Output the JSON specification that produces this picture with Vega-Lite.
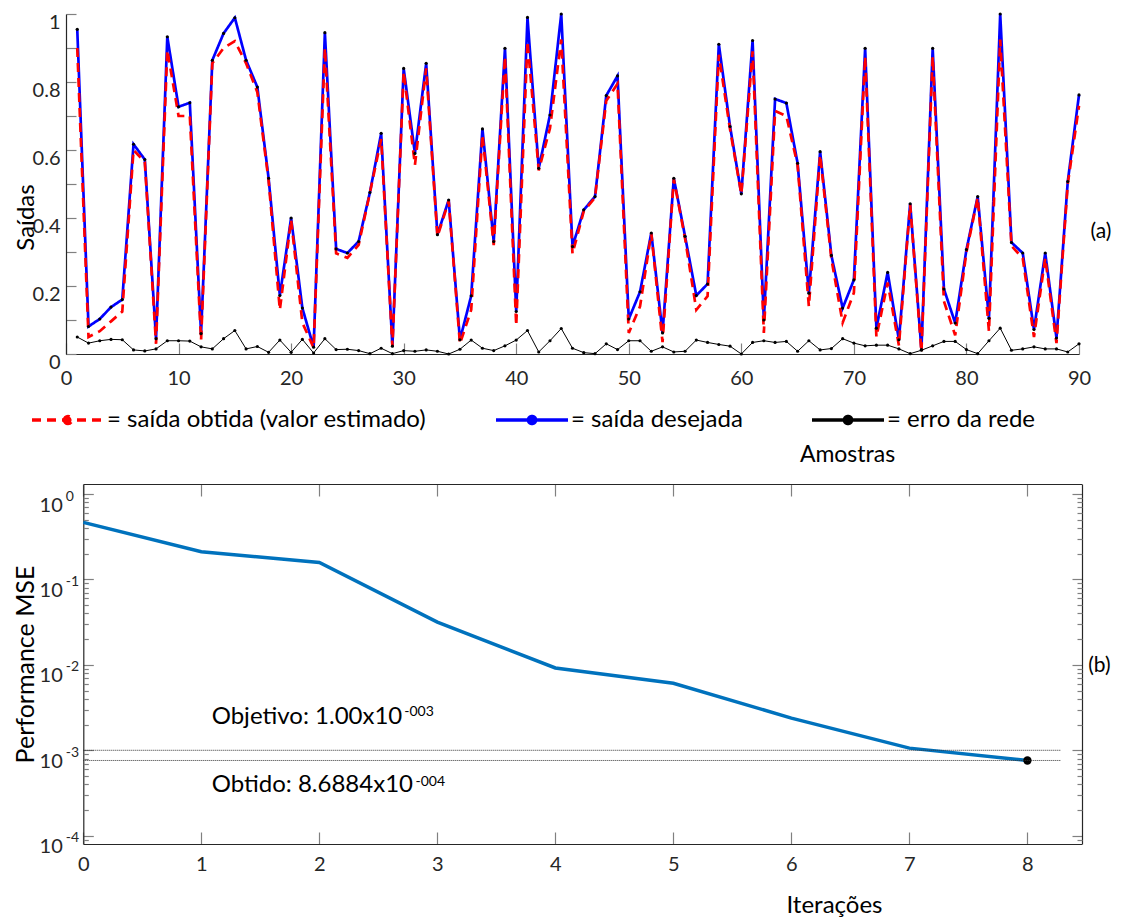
{
  "$schema": "https://vega.github.io/schema/vega-lite/v6.json",
  "padding": {"left": 13, "top": 8, "right": 5, "bottom": 0},
  "config": {
    "font": "Lato",
    "view": {"stroke": null},
    "axis": {"grid": false, "labelFont": "Lato", "titleFont": "Lato", "labelColor": "#262626", "titleColor": "#000000", "titleFontWeight": "normal", "domainColor": "#262626", "tickColor": "#808080", "domainWidth": 1.2, "tickWidth": 1.2, "labelFlush": false}
  },
  "datasets": {
    "amostras": [
      {"n":1,"desejada":0.955,"obtida":0.900,"erro":0.050},
      {"n":2,"desejada":0.081,"obtida":0.050,"erro":0.032},
      {"n":3,"desejada":0.103,"obtida":0.067,"erro":0.039},
      {"n":4,"desejada":0.138,"obtida":0.096,"erro":0.043},
      {"n":5,"desejada":0.160,"obtida":0.125,"erro":0.042},
      {"n":6,"desejada":0.617,"obtida":0.600,"erro":0.012},
      {"n":7,"desejada":0.572,"obtida":0.565,"erro":0.009},
      {"n":8,"desejada":0.045,"obtida":0.030,"erro":0.015},
      {"n":9,"desejada":0.933,"obtida":0.894,"erro":0.039},
      {"n":10,"desejada":0.727,"obtida":0.700,"erro":0.039},
      {"n":11,"desejada":0.739,"obtida":0.700,"erro":0.038},
      {"n":12,"desejada":0.060,"obtida":0.040,"erro":0.021},
      {"n":13,"desejada":0.864,"obtida":0.855,"erro":0.015},
      {"n":14,"desejada":0.943,"obtida":0.900,"erro":0.045},
      {"n":15,"desejada":0.989,"obtida":0.920,"erro":0.069},
      {"n":16,"desejada":0.864,"obtida":0.855,"erro":0.015},
      {"n":17,"desejada":0.785,"obtida":0.770,"erro":0.022},
      {"n":18,"desejada":0.517,"obtida":0.510,"erro":0.005},
      {"n":19,"desejada":0.172,"obtida":0.130,"erro":0.041},
      {"n":20,"desejada":0.400,"obtida":0.395,"erro":0.005},
      {"n":21,"desejada":0.135,"obtida":0.092,"erro":0.043},
      {"n":22,"desejada":0.020,"obtida":0.018,"erro":0.003},
      {"n":23,"desejada":0.945,"obtida":0.900,"erro":0.045},
      {"n":24,"desejada":0.309,"obtida":0.296,"erro":0.013},
      {"n":25,"desejada":0.297,"obtida":0.283,"erro":0.014},
      {"n":26,"desejada":0.331,"obtida":0.321,"erro":0.010},
      {"n":27,"desejada":0.475,"obtida":0.474,"erro":0.001},
      {"n":28,"desejada":0.649,"obtida":0.632,"erro":0.017},
      {"n":29,"desejada":0.023,"obtida":0.022,"erro":0.001},
      {"n":30,"desejada":0.840,"obtida":0.830,"erro":0.010},
      {"n":31,"desejada":0.590,"obtida":0.556,"erro":0.008},
      {"n":32,"desejada":0.855,"obtida":0.840,"erro":0.012},
      {"n":33,"desejada":0.351,"obtida":0.345,"erro":0.008},
      {"n":34,"desejada":0.453,"obtida":0.450,"erro":0.000},
      {"n":35,"desejada":0.042,"obtida":0.030,"erro":0.014},
      {"n":36,"desejada":0.171,"obtida":0.130,"erro":0.041},
      {"n":37,"desejada":0.662,"obtida":0.645,"erro":0.017},
      {"n":38,"desejada":0.331,"obtida":0.320,"erro":0.010},
      {"n":39,"desejada":0.899,"obtida":0.875,"erro":0.024},
      {"n":40,"desejada":0.125,"obtida":0.083,"erro":0.041},
      {"n":41,"desejada":0.990,"obtida":0.920,"erro":0.069},
      {"n":42,"desejada":0.546,"obtida":0.540,"erro":0.006},
      {"n":43,"desejada":0.703,"obtida":0.664,"erro":0.039},
      {"n":44,"desejada":1.000,"obtida":0.925,"erro":0.075},
      {"n":45,"desejada":0.316,"obtida":0.295,"erro":0.017},
      {"n":46,"desejada":0.424,"obtida":0.420,"erro":0.004},
      {"n":47,"desejada":0.463,"obtida":0.460,"erro":0.001},
      {"n":48,"desejada":0.760,"obtida":0.745,"erro":0.030},
      {"n":49,"desejada":0.818,"obtida":0.795,"erro":0.013},
      {"n":50,"desejada":0.103,"obtida":0.062,"erro":0.039},
      {"n":51,"desejada":0.183,"obtida":0.140,"erro":0.039},
      {"n":52,"desejada":0.356,"obtida":0.355,"erro":0.008},
      {"n":53,"desejada":0.062,"obtida":0.035,"erro":0.021},
      {"n":54,"desejada":0.517,"obtida":0.515,"erro":0.006},
      {"n":55,"desejada":0.346,"obtida":0.340,"erro":0.008},
      {"n":56,"desejada":0.172,"obtida":0.130,"erro":0.041},
      {"n":57,"desejada":0.206,"obtida":0.170,"erro":0.034},
      {"n":58,"desejada":0.911,"obtida":0.880,"erro":0.028},
      {"n":59,"desejada":0.669,"obtida":0.660,"erro":0.023},
      {"n":60,"desejada":0.471,"obtida":0.470,"erro":0.000},
      {"n":61,"desejada":0.922,"obtida":0.890,"erro":0.034},
      {"n":62,"desejada":0.100,"obtida":0.062,"erro":0.039},
      {"n":63,"desejada":0.750,"obtida":0.715,"erro":0.034},
      {"n":64,"desejada":0.738,"obtida":0.700,"erro":0.037},
      {"n":65,"desejada":0.561,"obtida":0.555,"erro":0.008},
      {"n":66,"desejada":0.179,"obtida":0.140,"erro":0.039},
      {"n":67,"desejada":0.595,"obtida":0.585,"erro":0.012},
      {"n":68,"desejada":0.290,"obtida":0.280,"erro":0.016},
      {"n":69,"desejada":0.135,"obtida":0.092,"erro":0.045},
      {"n":70,"desejada":0.218,"obtida":0.180,"erro":0.032},
      {"n":71,"desejada":0.899,"obtida":0.875,"erro":0.024},
      {"n":72,"desejada":0.076,"obtida":0.050,"erro":0.026},
      {"n":73,"desejada":0.240,"obtida":0.210,"erro":0.026},
      {"n":74,"desejada":0.042,"obtida":0.025,"erro":0.015},
      {"n":75,"desejada":0.442,"obtida":0.440,"erro":0.001},
      {"n":76,"desejada":0.013,"obtida":0.005,"erro":0.011},
      {"n":77,"desejada":0.899,"obtida":0.875,"erro":0.024},
      {"n":78,"desejada":0.191,"obtida":0.155,"erro":0.037},
      {"n":79,"desejada":0.091,"obtida":0.055,"erro":0.037},
      {"n":80,"desejada":0.307,"obtida":0.300,"erro":0.013},
      {"n":81,"desejada":0.463,"obtida":0.460,"erro":0.001},
      {"n":82,"desejada":0.105,"obtida":0.066,"erro":0.039},
      {"n":83,"desejada":1.000,"obtida":0.925,"erro":0.076},
      {"n":84,"desejada":0.328,"obtida":0.318,"erro":0.011},
      {"n":85,"desejada":0.297,"obtida":0.282,"erro":0.015},
      {"n":86,"desejada":0.072,"obtida":0.050,"erro":0.021},
      {"n":87,"desejada":0.297,"obtida":0.282,"erro":0.015},
      {"n":88,"desejada":0.047,"obtida":0.032,"erro":0.015},
      {"n":89,"desejada":0.507,"obtida":0.500,"erro":0.006},
      {"n":90,"desejada":0.762,"obtida":0.730,"erro":0.030}
    ],
    "mse": [
      {"iter":0,"mse":0.466},
      {"iter":1,"mse":0.211},
      {"iter":2,"mse":0.158},
      {"iter":3,"mse":0.0317},
      {"iter":4,"mse":0.0092},
      {"iter":5,"mse":0.0061},
      {"iter":6,"mse":0.00238},
      {"iter":7,"mse":0.00106},
      {"iter":8,"mse":0.00076}
    ]
  },
  "columns": 1,
  "spacing": 17,
  "concat": [
    {
      "width": 1013,
      "height": 340,
      "data": {"name": "amostras"},
      "resolve": {"axis": {"x": "independent", "y": "independent"}},
      "layer": [
        {
          "transform": [{"fold": ["desejada", "obtida"], "as": ["serie", "valor"]}],
          "mark": {"type": "line", "strokeWidth": 2.7},
          "encoding": {
            "x": {"field": "n", "type": "quantitative", "scale": {"domain": [0, 90], "nice": false},
              "axis": {"orient": "bottom", "values": [0,10,20,30,40,50,60,70,80,90], "format": "d", "tickSize": -11, "labelPadding": 25, "labelFontSize": 20, "labelFlush": false,
                "title": "Amostras", "titleX": 781, "titleY": 107, "titleBaseline": "alphabetic", "titleFontSize": 23}},
            "y": {"field": "valor", "type": "quantitative", "scale": {"domain": [0, 1], "nice": false},
              "axis": {"orient": "left", "values": [0,0.1,0.2,0.3,0.4,0.5,0.6,0.7,0.8,0.9,1], "format": ".1~f", "labelExpr": "(round(datum.value*10) % 2 == 0) ? datum.label : ''",
                "tickSize": -10, "labelPadding": 16, "labelOffset": 8, "labelFontSize": 20, "labelFlush": false,
                "title": "Saídas", "titleX": -33, "titleY": 203, "titleBaseline": "alphabetic", "titleFontSize": 24}},
            "color": {"field": "serie", "type": "nominal",
              "scale": {"domain": ["obtida", "desejada", "erro"], "range": ["#FF0000", "#0000FF", "#000000"]},
              "legend": {"title": null, "orient": "none", "legendX": -36, "legendY": 368, "direction": "horizontal",
                "symbolType": "M-1,0H1M-0.1,0A0.1,0.1,0,1,0,0.1,0A0.1,0.1,0,1,0,-0.1,0",
                "symbolSize": 5184, "symbolStrokeWidth": 3.5, "labelFontSize": 24, "labelColor": "#000000", "labelOffset": 1, "columnPadding": 62, "labelLimit": 500,
                "labelExpr": "datum.label == 'obtida' ? '= saída obtida (valor estimado)' : datum.label == 'desejada' ? '= saída desejada' : '= erro da rede'",
                "encode": {"symbols": {"update": {
                  "strokeDash": {"signal": "datum.value == 'obtida' ? [18, 36] : [1, 0]"},
                  "fill": {"signal": "datum.value == 'obtida' ? '#FF0000' : datum.value == 'desejada' ? '#0000FF' : '#000000'"},
                  "fillOpacity": {"value": 1},
                  "opacity": {"value": 1}
                }}}}},
            "strokeDash": {"field": "serie", "type": "nominal",
              "scale": {"domain": ["obtida", "desejada", "erro"], "range": [[9, 6], [1, 0], [1, 0]]}, "legend": null}
          }
        },
        {
          "mark": {"type": "line", "color": "#000000", "strokeWidth": 1},
          "encoding": {
            "x": {"field": "n", "type": "quantitative", "axis": null},
            "y": {"field": "erro", "type": "quantitative", "axis": null}
          }
        },
        {
          "transform": [{"fold": ["desejada", "erro"], "as": ["serie", "valor"]}],
          "mark": {"type": "circle", "color": "#000000", "size": 10, "opacity": 1},
          "encoding": {
            "x": {"field": "n", "type": "quantitative", "axis": null},
            "y": {"field": "valor", "type": "quantitative", "axis": null}
          }
        },
        {
          "data": {"values": [{}]},
          "mark": {"type": "text", "fontSize": 21, "color": "#000000", "align": "center", "baseline": "middle"},
          "encoding": {
            "x": {"datum": 91.95, "type": "quantitative", "axis": null},
            "y": {"datum": 0.359, "type": "quantitative", "axis": null},
            "text": {"value": "(a)"}
          }
        }
      ]
    },
    {
      "width": 1016,
      "height": 360,
      "data": {"name": "mse"},
      "resolve": {"axis": {"x": "independent", "y": "independent"}},
      "layer": [
        {
          "mark": {"type": "line", "color": "#0072BD", "strokeWidth": 3.5},
          "encoding": {
            "x": {"field": "iter", "type": "quantitative", "scale": {"domain": [0, 8.46], "range": [17.3, 1015.7], "nice": false},
              "axis": {"orient": "bottom", "values": [0,1,2,3,4,5,6,7,8], "format": "d", "tickSize": -12, "labelPadding": 22, "labelFontSize": 20, "labelFlush": false,
                "title": "Iterações", "titleX": 768, "titleY": 68, "titleBaseline": "alphabetic", "titleFontSize": 24}},
            "y": {"field": "mse", "type": "quantitative", "scale": {"type": "log", "domain": [0.00008, 1.31], "nice": false},
              "axis": {"orient": "left", "offset": -17.3, "values": [0.0001, 0.001, 0.01, 0.1, 1], "labelExpr": "'10'", "tickSize": -10, "labelPadding": 31, "labelOffset": 11, "labelFontSize": 20,
                "title": "Performance MSE", "titleX": -50, "titleBaseline": "alphabetic", "titleFontSize": 25}}
          }
        },
        {
          "transform": [{"filter": "datum.iter == 8"}],
          "mark": {"type": "circle", "color": "#000000", "size": 70, "opacity": 1},
          "encoding": {
            "x": {"field": "iter", "type": "quantitative", "scale": {"domain": [0, 8.46], "range": [17.3, 1015.7], "nice": false},
              "axis": {"orient": "top", "values": [0,1,2,3,4,5,6,7,8], "tickSize": -12, "labels": false, "title": null}},
            "y": {"field": "mse", "type": "quantitative", "scale": {"type": "log", "domain": [0.00008, 1.31], "nice": false},
              "axis": {"orient": "left", "offset": -17.3, "values": [0.0001, 0.001, 0.01, 0.1, 1], "ticks": false, "domain": false, "labelExpr": "'' + round(log(datum.value)/LN10)", "labelAlign": "left", "labelPadding": 18, "labelOffset": 2, "labelFontSize": 14, "title": null}}
          }
        },
        {
          "data": {"values": [{}]},
          "mark": {"type": "rule", "color": "#333333", "strokeWidth": 1, "strokeDash": [1, 1]},
          "encoding": {
            "x": {"datum": 0, "type": "quantitative", "axis": null},
            "x2": {"datum": 8.28},
            "y": {"datum": 0.001, "type": "quantitative",
              "axis": {"orient": "right", "values": [0.0001, 0.001, 0.01, 0.1, 1], "tickSize": -10, "labels": false, "title": null}}
          }
        },
        {
          "data": {"values": [{}]},
          "mark": {"type": "rule", "color": "#333333", "strokeWidth": 1, "strokeDash": [1, 1]},
          "encoding": {
            "x": {"datum": 0, "type": "quantitative", "axis": null},
            "x2": {"datum": 8.28},
            "y": {"datum": 0.00076, "type": "quantitative",
              "axis": {"orient": "right", "values": [0.00009, 0.0002, 0.0003, 0.0004, 0.0005, 0.0006, 0.0007, 0.0008, 0.0009, 0.002, 0.003, 0.004, 0.005, 0.006, 0.007, 0.008, 0.009, 0.02, 0.03, 0.04, 0.05, 0.06, 0.07, 0.08, 0.09, 0.2, 0.3, 0.4, 0.5, 0.6, 0.7, 0.8, 0.9], "tickSize": -5, "labels": false, "domain": false, "title": null}}
          }
        },
        {
          "data": {"values": [{}]},
          "mark": {"type": "text", "fontSize": 24, "color": "#000000", "align": "left", "baseline": "alphabetic"},
          "encoding": {
            "x": {"datum": 1.088, "type": "quantitative", "axis": null},
            "y": {"datum": 0.00203, "type": "quantitative",
              "axis": {"orient": "left", "offset": -17.3, "values": [0.00009, 0.0002, 0.0003, 0.0004, 0.0005, 0.0006, 0.0007, 0.0008, 0.0009, 0.002, 0.003, 0.004, 0.005, 0.006, 0.007, 0.008, 0.009, 0.02, 0.03, 0.04, 0.05, 0.06, 0.07, 0.08, 0.09, 0.2, 0.3, 0.4, 0.5, 0.6, 0.7, 0.8, 0.9], "tickSize": -5, "labels": false, "domain": false, "title": null}},
            "text": {"value": "Objetivo: 1.00x10"}
          }
        },
        {
          "data": {"values": [{}]},
          "mark": {"type": "text", "fontSize": 14, "color": "#000000", "align": "left", "baseline": "alphabetic"},
          "encoding": {
            "x": {"datum": 2.72, "type": "quantitative", "axis": null},
            "y": {"datum": 0.00251, "type": "quantitative", "axis": null},
            "text": {"value": "-003"}
          }
        },
        {
          "data": {"values": [{}]},
          "mark": {"type": "text", "fontSize": 24, "color": "#000000", "align": "left", "baseline": "alphabetic"},
          "encoding": {
            "x": {"datum": 1.088, "type": "quantitative", "axis": null},
            "y": {"datum": 0.000324, "type": "quantitative", "axis": null},
            "text": {"value": "Obtido: 8.6884x10"}
          }
        },
        {
          "data": {"values": [{}]},
          "mark": {"type": "text", "fontSize": 14, "color": "#000000", "align": "left", "baseline": "alphabetic"},
          "encoding": {
            "x": {"datum": 2.815, "type": "quantitative", "axis": null},
            "y": {"datum": 0.000381, "type": "quantitative", "axis": null},
            "text": {"value": "-004"}
          }
        },
        {
          "data": {"values": [{}]},
          "mark": {"type": "text", "fontSize": 21, "color": "#000000", "align": "center", "baseline": "middle"},
          "encoding": {
            "x": {"datum": 8.61, "type": "quantitative", "axis": null},
            "y": {"datum": 0.0097, "type": "quantitative", "axis": null},
            "text": {"value": "(b)"}
          }
        }
      ]
    }
  ]
}
